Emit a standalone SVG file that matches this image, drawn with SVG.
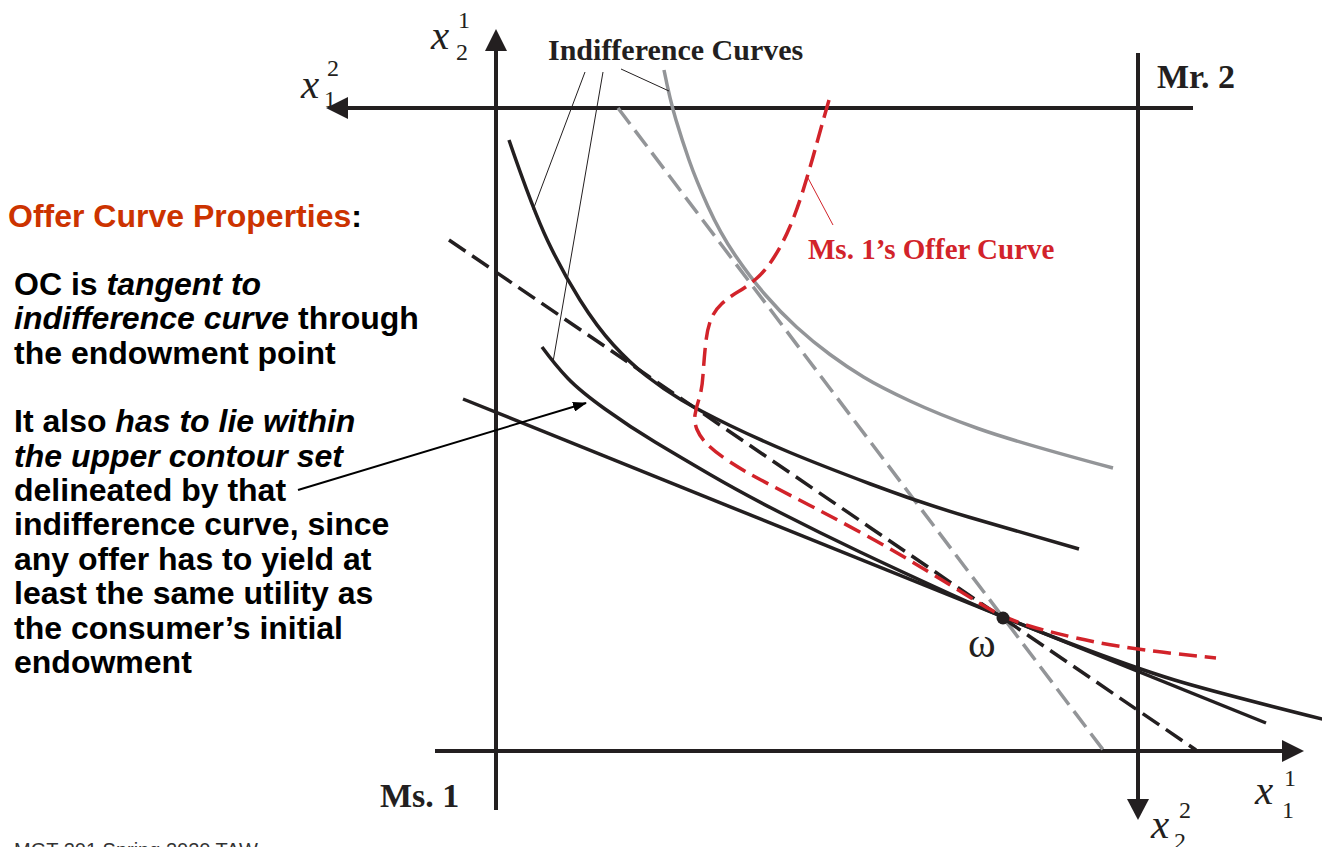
<svg xmlns="http://www.w3.org/2000/svg" width="1322" height="847" viewBox="0 0 1322 847">
<defs>
<style>
.ax{stroke:#231f20;stroke-width:4;fill:none}
.ic{stroke:#231f20;stroke-width:3.5;fill:none}
.gr{stroke:#939598;stroke-width:3.5;fill:none}
.dk{stroke:#231f20;stroke-width:3.5;stroke-dasharray:20 8;fill:none}
.dg{stroke:#939598;stroke-width:3.5;stroke-dasharray:20 8;fill:none}
.oc{stroke:#d2232a;stroke-width:3.5;stroke-dasharray:18 8;fill:none}
.lead{stroke:#231f20;stroke-width:1;fill:none}
.head{fill:#231f20}
.serif{font-family:"Liberation Serif","Times New Roman",serif;fill:#231f20}
.lbl{font-weight:bold}
.var{font-style:italic;font-size:41px}
.idx{font-size:24px}
.body{font-family:"Liberation Sans",Arial,sans-serif;font-weight:bold;font-size:32px;fill:#000}
.it{font-style:italic}
</style>
<marker id="ptr" markerWidth="14" markerHeight="10" refX="13" refY="5" orient="auto" markerUnits="userSpaceOnUse">
<path d="M0,0 L14,5 L0,10 Z" fill="#000"/>
</marker>
</defs>
<rect width="1322" height="847" fill="#fff"/>

<g id="axes">
<line class="ax" x1="496" y1="810" x2="496" y2="48"/>
<polygon class="head" points="496,29 485,51 507,51"/>
<line class="ax" x1="1193" y1="108" x2="345" y2="108"/>
<polygon class="head" points="326,108 348,97 348,119"/>
<line class="ax" x1="1138" y1="53" x2="1138" y2="802"/>
<polygon class="head" points="1138,820 1127,799 1149,799"/>
<line class="ax" x1="435" y1="751" x2="1285" y2="751"/>
<polygon class="head" points="1304,751 1282,740 1282,762"/>
</g>

<g id="axis-labels" class="serif">
<text class="var" x="431" y="49">x</text><text class="idx" x="458" y="28">1</text><text class="idx" x="456" y="60">2</text>
<text class="var" x="301" y="98">x</text><text class="idx" x="327" y="76">2</text><text class="idx" x="324" y="107">1</text>
<text class="var" x="1255" y="804">x</text><text class="idx" x="1284" y="786">1</text><text class="idx" x="1282" y="818">1</text>
<text class="var" x="1151" y="838">x</text><text class="idx" x="1179" y="818">2</text><text class="idx" x="1174" y="849">2</text>
<text class="lbl" x="1157" y="88" font-size="34">Mr. 2</text>
<text class="lbl" x="380" y="807" font-size="34">Ms. 1</text>
</g>

<g id="budget-lines">
<path class="dg" d="M618,108 L1104,751"/>
<path class="dk" d="M449,240 L1196,750"/>
<path class="ic" d="M463,399 L1266,723"/>
</g>

<g id="ic-grey">
<path class="gr" d="M664,70 Q670,100 676,120 Q682,140 689,160 Q696,180 708,206.5 Q720,233 735,255 Q750,277 765,294.5 Q780,312 796.5,327 Q813,342 830,354.5 Q847,367 863.5,377 Q880,387 910,401 Q940,415 978,428.5 Q1016,442 1113,468"/>
</g>

<g id="ic-upper">
<path class="ic" d="M509,140 Q533,210 548,241.5 Q563,273 580,300 Q597,327 613.5,345 Q630,363 646.5,376 Q663,389 681.5,400 Q700,411 730,425.5 Q760,440 790,452.5 Q820,465 870.5,484 Q921,503 968.5,517 Q1016,531 1079,549"/>
</g>

<g id="ic-endowment">
<path class="ic" d="M542,347 Q556,366 568,378.5 Q580,391 605,409 Q630,427 655,442 Q680,457 710,474.5 Q740,492 780,512.5 Q820,533 860,552 Q900,571 951.5,594.5 Q1003,618 1069,643 Q1135,668 1174.5,680 Q1214,692 1330,721"/>
</g>

<g id="offer-curve">
<path class="oc" d="M829,100 Q821,128 815.5,148 Q810,168 803.5,189 Q797,210 790,226.5 Q783,243 774.5,256.5 Q766,270 757,278 Q748,286 738.5,291.5 Q729,297 721.5,304 Q714,311 710.5,320.5 Q707,330 705.5,345 Q704,360 703,375 Q702,390 699,399 Q696,408 695,415 Q694,422 697,429.5 Q700,437 707.5,444.5 Q715,452 728.5,461 Q742,470 761,480 Q780,490 809,505 Q838,520 868,536.5 Q898,553 926.5,570.5 Q955,588 979,603 Q1003,618 1029.5,626 Q1056,634 1095.5,642 Q1135,650 1216,658"/>
<text class="serif lbl" x="808" y="259" font-size="29" style="fill:#d2232a">Ms. 1’s Offer Curve</text>
</g>

<g id="endowment">
<circle cx="1003" cy="618" r="6.5" fill="#231f20"/>
<text class="serif" x="968" y="657" font-size="42">ω</text>
</g>

<g id="connectors">
<line class="lead" x1="585" y1="72" x2="533" y2="210"/>
<line class="lead" x1="603" y1="72" x2="553" y2="362"/>
<line class="lead" x1="621" y1="69" x2="669" y2="91"/>
<line x1="833" y1="225" x2="808" y2="178" stroke="#d2232a" stroke-width="1"/>
<line x1="298" y1="490" x2="586" y2="403" stroke="#000" stroke-width="2" marker-end="url(#ptr)"/>
</g>

<g id="ic-label">
<text class="serif lbl" x="548" y="60" font-size="30">Indifference Curves</text>
</g>

<g id="properties-text">
<text class="body" x="8" y="227"><tspan fill="#cc3300">Offer Curve Properties</tspan>:</text>
<text class="body" x="14" y="295">OC is <tspan class="it">tangent to</tspan></text>
<text class="body" x="14" y="329"><tspan class="it">indifference curve</tspan> through</text>
<text class="body" x="14" y="364">the endowment point</text>
<text class="body" x="14" y="432">It also <tspan class="it">has to lie within</tspan></text>
<text class="body" x="14" y="467"><tspan class="it">the upper contour set</tspan></text>
<text class="body" x="14" y="501">delineated by that</text>
<text class="body" x="14" y="535">indifference curve, since</text>
<text class="body" x="14" y="570">any offer has to yield at</text>
<text class="body" x="14" y="604">least the same utility as</text>
<text class="body" x="14" y="639">the consumer’s initial</text>
<text class="body" x="14" y="673">endowment</text>
</g>

<g id="footer">
<text x="14" y="857" font-family="Liberation Sans, Arial, sans-serif" font-size="20" fill="#333">MGT 201 Spring 2020 TAW</text>
</g>
</svg>
